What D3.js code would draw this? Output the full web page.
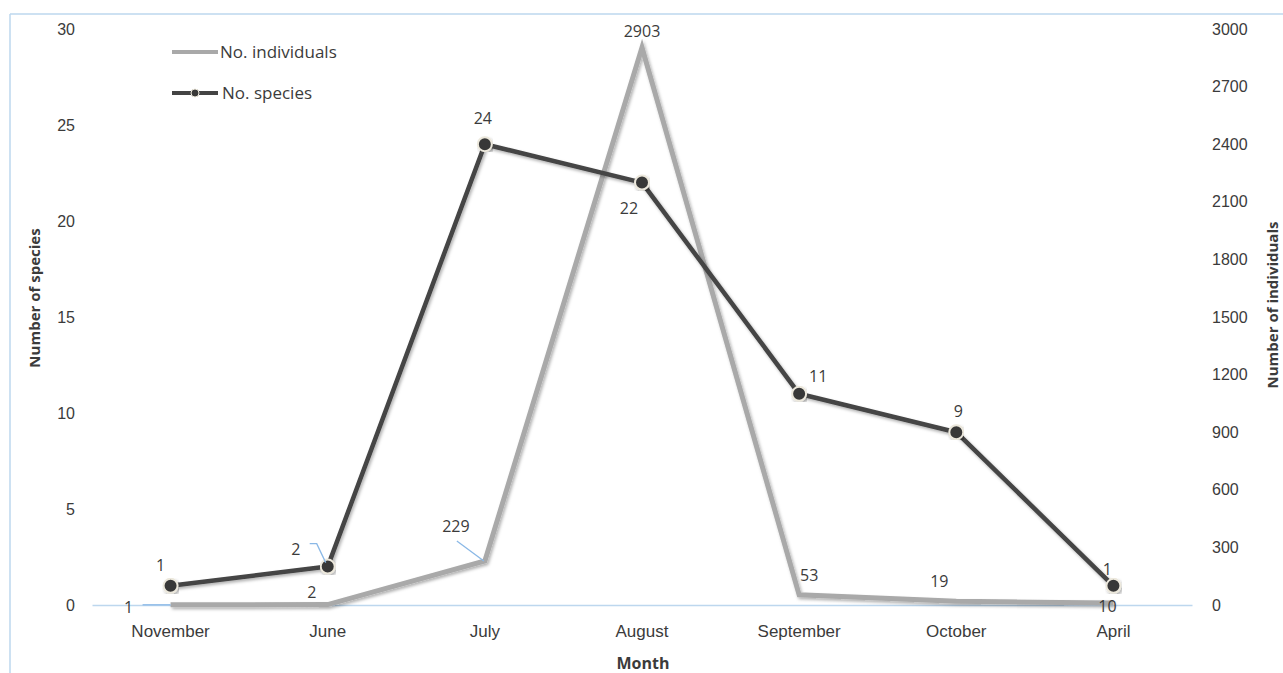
<!DOCTYPE html>
<html>
<head>
<meta charset="utf-8">
<script src="https://cdn.jsdelivr.net/npm/d3@7"></script>
<style>
  html, body { margin: 0; padding: 0; background: #fff; }
  svg { display: block; font-family: "Open Sans", "DejaVu Sans", sans-serif; }
</style>
</head>
<body>
<svg id="chart" width="1283" height="673"></svg>
<script>
// Monthly survey counts
const months = ["November", "June", "July", "August", "September", "October", "April"];
const speciesCounts = [1, 2, 24, 22, 11, 9, 1];
const individualCounts = [1, 2, 229, 2903, 53, 19, 10];
const speciesTicks = [0, 5, 10, 15, 20, 25, 30];
const individualTicks = [0, 300, 600, 900, 1200, 1500, 1800, 2100, 2400, 2700, 3000];

// Label placement (offsets from each point, in px)
const speciesLabelOffsets = [[-10, -20], [-32, -17], [-2, -26], [-13, 26], [19, -17], [2, -21], [-6, -16]];
const individualLabelOffsets = [[-42, 3], [-16, -12], [-29, -35], [0, -16], [10, -19], [-17, -20], [-6, 3]];

const svg = d3.select("#chart");
const W = 1283, H = 673;
const textColor = "#3b3b3b";
const frameColor = "#bdd7ee";
const leaderColor = "#8ab8e6";

const defs = svg.append("defs");
const shadow = defs.append("filter").attr("id", "shadow")
  .attr("x", "-5%").attr("y", "-5%").attr("width", "110%").attr("height", "110%");
shadow.append("feDropShadow").attr("dx", 1.5).attr("dy", 2).attr("stdDeviation", 1.6)
  .attr("flood-color", "#000").attr("flood-opacity", 0.3);

// Outer frame (top and left edges visible)
svg.append("line").attr("x1", 10).attr("x2", W).attr("y1", 14).attr("y2", 14)
  .attr("stroke", frameColor).attr("stroke-width", 1.5);
svg.append("line").attr("x1", 10).attr("x2", 10).attr("y1", 14).attr("y2", H)
  .attr("stroke", frameColor).attr("stroke-width", 1.5);

const x = d3.scaleBand().domain(months).range([92, 1192]);
const xc = m => x(m) + x.bandwidth() / 2;
const yL = d3.scaleLinear().domain([0, 30]).range([605, 29]);
const yR = d3.scaleLinear().domain([0, 3000]).range([605, 29]);

// Left axis
const leftAxis = svg.append("g").attr("transform", "translate(78,0)")
  .call(d3.axisLeft(yL).tickValues(speciesTicks).tickSize(0).tickPadding(3));
leftAxis.select(".domain").remove();
leftAxis.selectAll("text").attr("fill", textColor).style("font-size", "16px");

// Right axis
const rightAxis = svg.append("g").attr("transform", "translate(1210,0)")
  .call(d3.axisRight(yR).tickValues(individualTicks).tickFormat(d3.format("d")).tickSize(0).tickPadding(2));
rightAxis.select(".domain").remove();
rightAxis.selectAll("text").attr("fill", textColor).style("font-size", "16px");

// Bottom axis
const bottomAxis = svg.append("g").attr("transform", "translate(0,605)")
  .call(d3.axisBottom(x).tickSize(0).tickPadding(20));
bottomAxis.select(".domain").attr("stroke", frameColor).attr("stroke-width", 1.5);
bottomAxis.selectAll("text").attr("fill", textColor).style("font-size", "17px");

// Axis titles
svg.append("text").attr("x", 643).attr("y", 669).attr("text-anchor", "middle")
  .attr("fill", textColor).style("font-size", "16px").style("font-weight", "bold").text("Month");
svg.append("text").attr("transform", "translate(40,298) rotate(-90)").attr("text-anchor", "middle")
  .attr("fill", textColor).style("font-size", "15px").style("font-weight", "bold").text("Number of species");
svg.append("text").attr("transform", "translate(1278,305) rotate(-90)").attr("text-anchor", "middle")
  .attr("fill", textColor).style("font-size", "15px").style("font-weight", "bold").text("Number of individuals");

// Individuals line
const indPts = months.map((m, i) => [xc(m), yR(individualCounts[i])]);
svg.append("path").datum(indPts)
  .attr("d", d3.line())
  .attr("fill", "none").attr("stroke", "#a9a9a9").attr("stroke-width", 5)
  .attr("stroke-linejoin", "miter").attr("filter", "url(#shadow)");

// Species line
const spPts = months.map((m, i) => [xc(m), yL(speciesCounts[i])]);
svg.append("path").datum(spPts)
  .attr("d", d3.line())
  .attr("fill", "none").attr("stroke", "#444444").attr("stroke-width", 4.5)
  .attr("stroke-linejoin", "round").attr("filter", "url(#shadow)");

svg.append("g").selectAll("circle").data(spPts).join("circle")
  .attr("cx", d => d[0]).attr("cy", d => d[1]).attr("r", 7)
  .attr("fill", "#383838").attr("stroke", "#ece8dc").attr("stroke-width", 2)
  .attr("filter", "url(#shadow)");

// Leader lines
const juneSp = spPts[1];
svg.append("path")
  .attr("d", d3.line()([[juneSp[0] - 18, juneSp[1] - 23], [juneSp[0] - 11, juneSp[1] - 23], [juneSp[0] - 2, juneSp[1] - 4]]))
  .attr("fill", "none").attr("stroke", leaderColor).attr("stroke-width", 1.3);
const julyInd = indPts[2];
svg.append("line")
  .attr("x1", julyInd[0] - 28).attr("y1", julyInd[1] - 20)
  .attr("x2", julyInd[0] - 1).attr("y2", julyInd[1])
  .attr("stroke", leaderColor).attr("stroke-width", 1.3);
const novInd = indPts[0];
svg.append("line")
  .attr("x1", novInd[0] - 28).attr("y1", novInd[1])
  .attr("x2", novInd[0]).attr("y2", novInd[1])
  .attr("stroke", leaderColor).attr("stroke-width", 1.3);

// Data labels
function labels(pts, values, offsets) {
  svg.append("g").selectAll("text").data(pts).join("text")
    .attr("x", (d, i) => d[0] + offsets[i][0])
    .attr("y", (d, i) => d[1] + offsets[i][1])
    .attr("dy", "0.35em").attr("text-anchor", "middle")
    .attr("fill", textColor).style("font-size", "16px")
    .text((d, i) => values[i]);
}
labels(indPts, individualCounts, individualLabelOffsets);
labels(spPts, speciesCounts, speciesLabelOffsets);

// Legend
const legend = svg.append("g");
legend.append("line").attr("x1", 172).attr("x2", 218).attr("y1", 52).attr("y2", 52)
  .attr("stroke", "#a9a9a9").attr("stroke-width", 4);
legend.append("text").attr("x", 220).attr("y", 52).attr("dy", "0.35em")
  .attr("fill", textColor).style("font-size", "17px").text("No. individuals");
legend.append("line").attr("x1", 172).attr("x2", 218).attr("y1", 93).attr("y2", 93)
  .attr("stroke", "#444444").attr("stroke-width", 4);
legend.append("circle").attr("cx", 195).attr("cy", 93).attr("r", 4)
  .attr("fill", "#383838").attr("stroke", "#ece8dc").attr("stroke-width", 1);
legend.append("text").attr("x", 222).attr("y", 93).attr("dy", "0.35em")
  .attr("fill", textColor).style("font-size", "17px").text("No. species");
</script>
</body>
</html>
